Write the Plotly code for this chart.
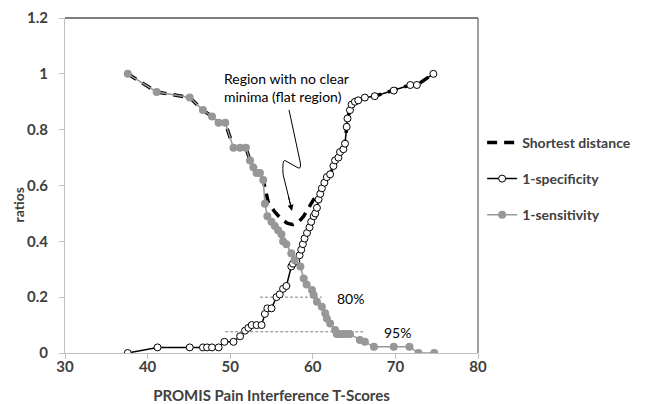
import plotly.graph_objects as go

# 1-specificity (black open circles)
spec_x = [37.6, 41.2, 45.1, 46.7, 47.2, 47.8, 48.6, 49.3, 50.4, 51.2, 51.8, 52.2, 52.6, 53.2, 53.8,
          54.2, 54.5, 55.0, 55.6, 56.0, 56.4, 56.8, 57.4, 57.6, 58.0, 58.4, 58.6, 58.8, 59.0, 59.3,
          59.6, 59.8, 60.1, 60.3, 60.5, 60.7, 60.9, 61.1, 61.4, 61.7, 62.1, 62.5, 62.7, 63.1, 63.3,
          63.7, 63.9, 64.1, 64.2, 64.5, 64.7, 65.1, 65.5, 66.3, 67.5, 69.8, 71.8, 72.6, 74.6]
spec_y = [0.0, 0.02, 0.02, 0.02, 0.02, 0.02, 0.02, 0.04, 0.04, 0.06, 0.08, 0.09, 0.10, 0.10, 0.10,
          0.14, 0.16, 0.16, 0.20, 0.21, 0.23, 0.24, 0.31, 0.32, 0.33, 0.35, 0.37, 0.39, 0.41, 0.43,
          0.45, 0.47, 0.49, 0.50, 0.52, 0.55, 0.57, 0.59, 0.61, 0.63, 0.64, 0.67, 0.69, 0.70, 0.72,
          0.73, 0.75, 0.81, 0.84, 0.87, 0.89, 0.90, 0.905, 0.915, 0.92, 0.94, 0.96, 0.96, 1.0]

# 1-sensitivity (grey filled circles)
sens_x = [37.6, 41.1, 45.1, 46.7, 47.8, 48.6, 49.4, 50.4, 51.2, 51.9, 52.4, 52.8, 53.2, 53.6, 54.0,
          54.2, 54.5, 55.0, 55.4, 55.8, 56.2, 56.4, 56.8, 57.4, 57.8, 58.5, 58.9, 59.25, 59.9, 60.1,
          60.5, 61.1, 61.5, 61.7, 62.1, 62.7, 62.9, 63.3, 63.7, 64.1, 64.5, 65.7, 66.3, 67.4, 69.8,
          71.7, 72.8, 74.7]
sens_y = [1.0, 0.935, 0.915, 0.87, 0.847, 0.825, 0.825, 0.735, 0.735, 0.735, 0.69, 0.665, 0.645, 0.645, 0.62,
          0.535, 0.49, 0.47, 0.455, 0.44, 0.425, 0.40, 0.39, 0.357, 0.333, 0.31, 0.267, 0.245, 0.226, 0.208,
          0.184, 0.166, 0.142, 0.124, 0.106, 0.082, 0.068, 0.068, 0.068, 0.068, 0.068, 0.047, 0.04, 0.022, 0.022,
          0.022, 0.0, 0.0]

# Shortest distance (thick dashed)
dist_x = [37.6, 41.1, 45.1, 46.7, 47.8, 48.6, 49.4, 50.4, 51.2, 51.9, 52.4, 52.8, 53.2, 53.6, 54.0,
          54.6, 55.4, 56.2, 56.9, 57.6, 58.3, 58.9, 59.5, 60.1, 60.7, 61.1, 61.4, 61.7, 62.1, 62.5,
          62.7, 63.1, 63.3, 63.7, 63.9, 64.1, 64.2, 64.5, 64.7, 65.1, 65.5, 66.3, 67.5, 69.8, 71.8,
          72.6, 74.6]
dist_y = [1.0, 0.935, 0.915, 0.87, 0.847, 0.825, 0.825, 0.735, 0.735, 0.735, 0.69, 0.665, 0.645, 0.645, 0.62,
          0.54, 0.505, 0.48, 0.465, 0.46, 0.47, 0.49, 0.52, 0.55, 0.57, 0.59, 0.61, 0.63, 0.64, 0.67,
          0.69, 0.70, 0.72, 0.73, 0.75, 0.81, 0.84, 0.87, 0.89, 0.90, 0.905, 0.915, 0.92, 0.94, 0.96,
          0.96, 1.0]

# reference lines
ref80_x = [53.6, 61.1]
ref80_y = [0.2, 0.2]
ref95_x = [49.4, 66.3]
ref95_y = [0.076, 0.076]

FONT = "Lato"
TXT = "#404040"

fig = go.Figure()
fig.add_trace(go.Scatter(x=ref80_x, y=ref80_y, mode="lines", showlegend=False, hoverinfo="skip",
                         line=dict(color="#7f7f7f", width=1, dash="3px,2px")))
fig.add_trace(go.Scatter(x=ref95_x, y=ref95_y, mode="lines", showlegend=False, hoverinfo="skip",
                         line=dict(color="#7f7f7f", width=1, dash="3px,2px")))
fig.add_trace(go.Scatter(x=dist_x, y=dist_y, mode="lines", name="Shortest distance", legendgroup="a",
                         line=dict(color="black", width=3.5, dash="10px,7px")))
fig.add_trace(go.Scatter(x=spec_x, y=spec_y, mode="lines+markers", name="1-specificity", legendgroup="b",
                         line=dict(color="black", width=1.5),
                         marker=dict(symbol="circle", size=7, color="white",
                                     line=dict(color="black", width=1))))
fig.add_trace(go.Scatter(x=sens_x, y=sens_y, mode="lines+markers", name="1-sensitivity", legendgroup="c",
                         line=dict(color="#979797", width=1.5),
                         marker=dict(symbol="circle", size=8, color="#979797")))

# zig-zag arrow path
fig.add_shape(type="path",
              path="M 57.12,0.871 L 58.5,0.68 Q 58.6,0.655 58.1,0.665 L 56.6,0.69 Q 56.3,0.69 56.4,0.64 L 57.4,0.52",
              xref="x", yref="y", line=dict(color="black", width=1))
fig.add_annotation(x=57.48, y=0.509, ax=-4, ay=-16, xref="x", yref="y", text="", showarrow=True,
                   arrowhead=2, arrowsize=1.2, arrowwidth=1, arrowcolor="black")
fig.add_annotation(x=(222 - 65) / 413, y=(353 - 87) / 335, xref="paper", yref="paper",
                   text="Region with no clear<br>minima (flat region)", showarrow=False,
                   xanchor="left", yanchor="middle", align="left",
                   font=dict(family=FONT, size=14, color="black"))
fig.add_annotation(x=64.6, y=0.194, xref="x", yref="y", text="80%", showarrow=False,
                   font=dict(family=FONT, size=14, color="black"))
fig.add_annotation(x=70.2, y=0.072, xref="x", yref="y", text="95%", showarrow=False,
                   font=dict(family=FONT, size=14, color="black"))
fig.add_annotation(x=-58 / 413, y=(353 - 205) / 335, xref="paper", yref="paper", text="ratios",
                   textangle=-90, showarrow=False,
                   font=dict(family=FONT, size=14, color=TXT, weight="bold"))

# frame: top and right dark
fig.add_shape(type="line", xref="paper", yref="paper", x0=0, x1=1, y0=1, y1=1,
              line=dict(color="black", width=1))
fig.add_shape(type="line", xref="paper", yref="paper", x0=1, x1=1, y0=0, y1=1,
              line=dict(color="#404040", width=1))

fig.update_layout(
    width=645, height=404,
    margin=dict(l=65, r=167, t=18, b=51, autoexpand=False),
    paper_bgcolor="white", plot_bgcolor="white",
    font=dict(family=FONT, color=TXT),
    legend=dict(x=1.01, y=0.52, xanchor="left", yanchor="middle", tracegroupgap=15,
                font=dict(family=FONT, size=14, color=TXT, weight="bold"),
                bgcolor="rgba(0,0,0,0)", itemwidth=30),
    xaxis=dict(range=[30, 80], dtick=10, tick0=30, showgrid=False, zeroline=False,
               showline=True, linecolor="#bfbfbf", linewidth=1,
               ticks="outside", ticklen=5, tickcolor="#bfbfbf", ticklabelstandoff=-5,
               tickfont=dict(family=FONT, size=15, color=TXT, weight="bold"),
               title=dict(text="PROMIS Pain Interference T-Scores", standoff=17,
                          font=dict(family=FONT, size=15, color=TXT, weight="bold"))),
    yaxis=dict(range=[0, 1.2], dtick=0.2, tick0=0, showgrid=False, zeroline=False,
               showline=True, linecolor="#bfbfbf", linewidth=1,
               ticks="outside", ticklen=5, tickcolor="#bfbfbf", ticklabelstandoff=8,
               tickfont=dict(family=FONT, size=15, color=TXT, weight="bold")),
)
fig.write_html("out.html", config={"displayModeBar": False},
               post_script="document.body.style.margin='0';")
